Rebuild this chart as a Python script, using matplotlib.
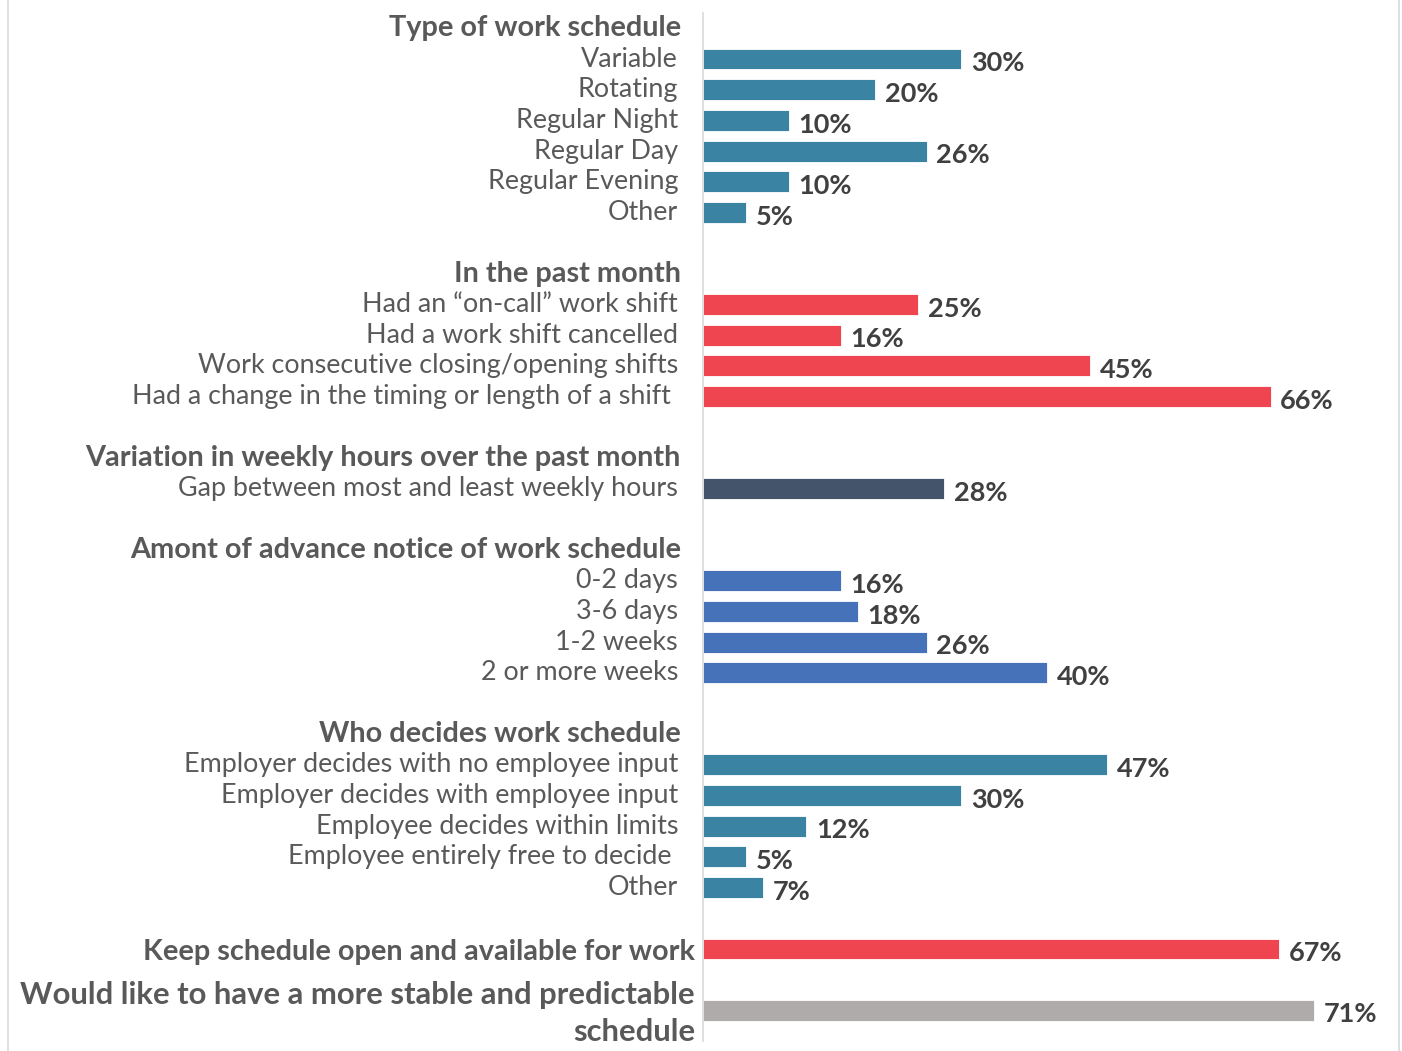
import matplotlib.pyplot as plt
from matplotlib.transforms import blended_transform_factory, Bbox, TransformedBbox
from matplotlib.lines import Line2D

plt.rcParams['font.family'] = ['Lato', 'DejaVu Sans']

# groups: header, labels, values, colour
headers = ["Type of work schedule", "In the past month",
           "Variation in weekly hours over the past month",
           "Amont of advance notice of work schedule", "Who decides work schedule"]
labels = [
    ["Variable", "Rotating", "Regular Night", "Regular Day", "Regular Evening", "Other"],
    ["Had an \u201Con-call\u201D work shift", "Had a work shift cancelled",
     "Work consecutive closing/opening shifts", "Had a change in the timing or length of a shift "],
    ["Gap between most and least weekly hours"],
    ["0-2 days", "3-6 days", "1-2 weeks", "2 or more weeks"],
    ["Employer decides with no employee input", "Employer decides with employee input",
     "Employee decides within limits", "Employee entirely free to decide ", "Other"],
]
values = [
    [30, 20, 10, 26, 10, 5],
    [25, 16, 45, 66],
    [28],
    [16, 18, 26, 40],
    [47, 30, 12, 5, 7],
]
colors = ["#3A83A3", "#EF4550", "#44546A", "#4672BA", "#3A83A3"]

# stand-alone rows at the bottom
extra_labels = ["Keep schedule open and available for work",
                "Would like to have a more stable and predictable\nschedule"]
extra_values = [67, 71]
extra_colors = ["#EF4550", "#AFABAB"]

W, H = 1402, 1051
fig = plt.figure(figsize=(W / 100, H / 100), dpi=100)
ax = fig.add_axes([703 / W, 10 / H, 688 / W, 1028 / H])
ax.set_xlim(0, 80)
ax.set_ylim(33.0, -0.5)
for s in ["top", "right", "bottom"]:
    ax.spines[s].set_visible(False)
ax.spines["left"].set_color("#D9D9D9")
ax.spines["left"].set_linewidth(1.2)
ax.set_xticks([])
ax.set_yticks([])

lab_tr = blended_transform_factory(fig.transFigure, ax.transData)
clip = TransformedBbox(Bbox([[85 / W, 0], [1, 1]]), fig.transFigure)

txt_col = "#595959"
val_col = "#404040"
fs = 19.4      # category labels
fs_hdr = 20.8  # group headers
fs_val = 19.5  # percentages
fs_extra = [20.8, 22.3]

def bar_row(y, v, c):
    ax.barh(y, v, height=0.68, color=c, edgecolor="white", linewidth=0.6)
    ax.annotate(f"{v}%", (v, y), xytext=(7, -3), textcoords="offset points",
                ha="left", va="center", fontsize=fs_val, fontweight="bold", color=val_col)

row = 0
for hdr, labs, vals, col in zip(headers, labels, values, colors):
    t = ax.text(681 / W, row, hdr, transform=lab_tr, ha="right", va="center",
                fontsize=fs_hdr, fontweight="bold", color=txt_col)
    t.set_clip_box(clip)
    t.set_clip_on(True)
    row += 1
    for lab, v in zip(labs, vals):
        ax.text(678 / W, row, lab, transform=lab_tr, ha="right", va="center",
                fontsize=fs, color=txt_col)
        bar_row(row, v, col)
        row += 1
    row += 1

for lab, v, c, f in zip(extra_labels, extra_values, extra_colors, fs_extra):
    ax.text(695 / W, row + 0.1, lab, transform=lab_tr, ha="right", va="center",
            multialignment="right", fontsize=f, fontweight="bold", color=txt_col,
            linespacing=1.4)
    bar_row(row, v, c)
    row += 2

# outer frame lines
fig.add_artist(Line2D([8 / W, 8 / W], [0, 1], transform=fig.transFigure, color="#D9D9D9", lw=1.2))
fig.add_artist(Line2D([1399 / W, 1399 / W], [0, 1], transform=fig.transFigure, color="#D9D9D9", lw=1.2))

fig.savefig("out.png", dpi=100)
